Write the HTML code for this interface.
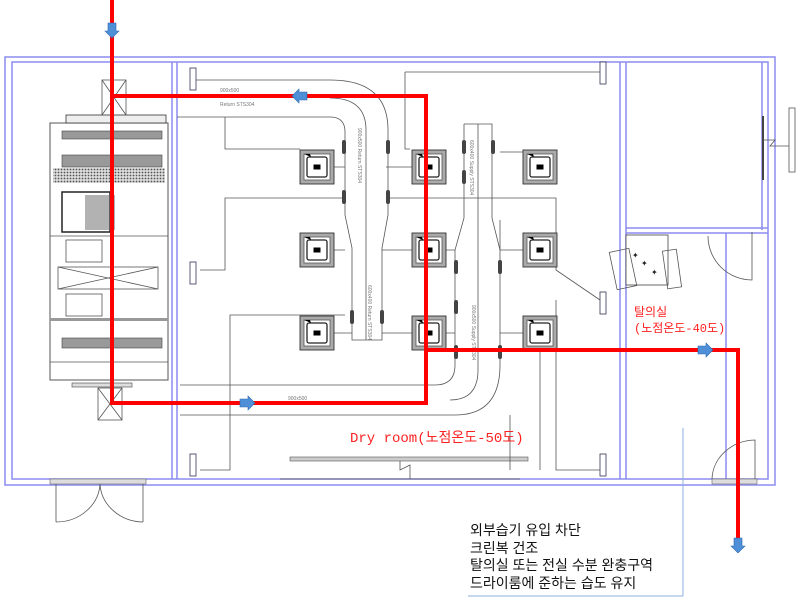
<!DOCTYPE html>
<html><head><meta charset="utf-8"><style>
html,body{margin:0;padding:0;background:#fff;}
svg{display:block;}
.w{stroke:#8c8cf0;stroke-width:1.5;fill:none}
.g{stroke:#555;stroke-width:0.8;fill:none}
.r{stroke:#ff0000;stroke-width:4;fill:none;stroke-linejoin:miter}
.k{font-family:"Liberation Sans","Noto Sans CJK KR",sans-serif;font-size:14px;fill:#111}
.m{font-family:"Liberation Mono","Noto Sans CJK KR",monospace;font-size:14px;fill:#ff2020}
.s{font-family:"Liberation Sans",sans-serif;font-size:5px;fill:#777}
</style></head><body>
<svg width="800" height="603" viewBox="0 0 800 603" xmlns="http://www.w3.org/2000/svg">
<defs>
<pattern id="hat" width="3" height="3" patternUnits="userSpaceOnUse"><rect width="3" height="3" fill="#ddd"/><circle cx="1.5" cy="1.5" r="0.9" fill="#555"/></pattern>
<g id="dif">
<rect x="-17" y="-17" width="34" height="34" fill="#aaa" stroke="#333" stroke-width="0.9"/>
<rect x="-13" y="-13" width="26" height="26" fill="#fff" stroke="#555" stroke-width="0.8"/>
<rect x="-10" y="-10" width="20" height="20" fill="none" stroke="#222" stroke-width="1.3" rx="2"/>
<rect x="-3.5" y="-2.5" width="7" height="5" fill="#000"/>
<path d="M-13,-13 L-6,-10 L-7,-13 Z" fill="#000"/>
</g>
<g id="ar"><path d="M-7,-4 L1,-4 L1,-7 L8,0 L1,7 L1,4 L-7,4 Z" fill="#4f8fd8" stroke="#2d6bb0" stroke-width="0.6"/></g>
</defs>

<rect x="5" y="57" width="770" height="428" class="w"/>
<rect x="12" y="62" width="756" height="417" class="w"/>
<line x1="172" y1="62" x2="172" y2="479" class="w"/>
<line x1="177" y1="62" x2="177" y2="479" class="w"/>
<line x1="620" y1="62" x2="620" y2="479" class="w"/>
<line x1="626" y1="62" x2="626" y2="479" class="w"/>
<line x1="626" y1="228" x2="768" y2="228" class="w"/>
<line x1="626" y1="233" x2="768" y2="233" class="w"/>
<line x1="762" y1="62" x2="762" y2="230" class="w"/>
<line x1="726" y1="233" x2="726" y2="479" class="w"/>
<line x1="683" y1="428" x2="683" y2="596" stroke="#8cb0e0" stroke-width="1"/>
<line x1="468" y1="596" x2="683" y2="596" stroke="#8cb0e0" stroke-width="1"/>

<line x1="763" y1="116" x2="763" y2="180" stroke="#444" stroke-width="2"/>
<rect x="789" y="108" width="6" height="64" class="g"/>
<path d="M763,140 L775,140 L770,146 L789,146" class="g"/>

<rect x="50" y="479" width="96" height="5" fill="#ddd" stroke="#666" stroke-width="0.6"/>
<path d="M56,484 L56,522 M143,484 L143,522 M56,522 A44,40 0 0 0 100,484 M143,522 A44,40 0 0 1 100,484" class="g"/>
<rect x="712" y="479" width="45" height="5" fill="#ddd" stroke="#666" stroke-width="0.6"/>
<path d="M755,479 L755,440 A44,40 0 0 0 712,479" class="g"/>
<path d="M752,232 L752,280 A44,44 0 0 1 708,236" class="g"/>
<rect x="290" y="457" width="238" height="4" fill="#ccc" stroke="#555" stroke-width="0.6"/>
<path d="M400,461 L400,470 L410,465 L410,479 M280,479 L520,479" class="g"/>

<g fill="#fff" stroke="#335" stroke-width="0.8">
<rect x="190" y="68" width="6" height="22"/><rect x="190" y="262" width="6" height="22"/>
<rect x="600" y="62" width="6" height="22"/><rect x="600" y="292" width="6" height="22"/>
<rect x="190" y="454" width="6" height="22"/><rect x="600" y="454" width="6" height="22"/>
</g>

<!-- AHU -->
<rect x="50" y="123" width="118" height="257" fill="#fff" stroke="#555" stroke-width="1"/>
<rect x="66" y="115" width="100" height="8" fill="#eee" stroke="#333" stroke-width="0.8"/>
<rect x="62" y="131" width="100" height="8" fill="#999" stroke="#444" stroke-width="0.6"/>
<rect x="62" y="155" width="100" height="12" fill="#999" stroke="#444" stroke-width="0.6"/>
<rect x="53" y="168" width="112" height="15" fill="url(#hat)"/>
<rect x="62" y="192" width="48" height="40" fill="none" stroke="#222" stroke-width="1.5"/>
<rect x="85" y="195" width="30" height="35" fill="#666" opacity="0.5"/>
<line x1="50" y1="236" x2="168" y2="236" class="g"/>
<rect x="66" y="240" width="36" height="22" class="g"/>
<rect x="58" y="267" width="100" height="22" class="g"/><path d="M58,267 L158,289 M58,289 L158,267" class="g"/>
<rect x="66" y="294" width="36" height="22" class="g"/>
<rect x="50" y="318" width="118" height="3" fill="#999"/>
<rect x="62" y="338" width="100" height="10" fill="#999" stroke="#444" stroke-width="0.6"/>
<line x1="50" y1="362" x2="168" y2="362" class="g"/>
<rect x="72" y="383" width="60" height="4" fill="#ddd" stroke="#444" stroke-width="0.6"/>
<rect x="98" y="388" width="24" height="32" class="g"/><path d="M98,388 L122,420 M122,388 L98,420" class="g"/>
<rect x="102" y="80" width="24" height="35" class="g"/><path d="M102,80 L126,115 M126,80 L102,115" class="g"/>

<g class="g">
<path d="M177,117 L200,117"/>
<path d="M225,117 L225,149 L300,149"/>
<path d="M200,270 L225,270 L225,198 L345,198"/>
<path d="M230,320 L230,315 L345,315 M230,320 L230,470 L200,470"/>
<path d="M405,72 L600,72 M405,72 L405,149 L410,149"/>
<path d="M388,198 L556,198 L556,270 L600,300"/>
<path d="M500,152 L524,152 M500,220 L500,250 M556,300 L556,470 L600,470"/>
<path d="M386,167 L412,167 M334,167 L345,167 M334,250 L345,250 M382,250 L412,250 M334,333 L352,333 M382,333 L412,333 M446,250 L455,250 M500,250 L524,250 M446,333 L455,333 M500,333 L524,333"/>
<path d="M510,415 L510,470 M540,350 L540,470"/>
</g>

<!-- return duct -->
<path d="M196,80 L330,80 Q388,80 388,130 L388,215 L382,248 L382,340 L352,340 L352,248 L345,215 L345,132 Q345,117 330,117 L200,117" class="g"/>
<path d="M330,98 Q366,98 366,130 L366,340" class="g"/>
<text x="358" y="128" class="s" transform="rotate(90 358 128)">900x500  Return STS304</text>
<text x="368" y="285" class="s" transform="rotate(90 368 285)">600x400  Return STS304</text>
<g fill="#444"><rect x="342" y="140" width="4" height="14" rx="2"/><rect x="386" y="140" width="4" height="14" rx="2"/><rect x="342" y="190" width="4" height="14" rx="2"/><rect x="386" y="190" width="4" height="14" rx="2"/><rect x="350" y="310" width="4" height="14" rx="2"/><rect x="380" y="310" width="4" height="14" rx="2"/></g>

<!-- supply duct -->
<path d="M464,124 L492,124 L492,218 L500,250 L500,365 Q500,415 455,415 L180,415 M464,124 L464,218 L455,250 L455,365 Q455,385 435,385 L180,385" class="g"/>
<line x1="478" y1="124" x2="478" y2="370" class="g"/>
<path d="M478,370 Q478,400 450,400" class="g"/>
<text x="470" y="140" class="s" transform="rotate(90 470 140)">600x400 Supply STS304</text>
<text x="472" y="305" class="s" transform="rotate(90 472 305)">900x500 Supply STS304</text>
<text x="288" y="400" class="s">900x500</text>
<g fill="#444"><rect x="462" y="140" width="4" height="14" rx="2"/><rect x="491" y="140" width="4" height="14" rx="2"/><rect x="462" y="170" width="4" height="14" rx="2"/><rect x="454" y="260" width="4" height="14" rx="2"/><rect x="498" y="260" width="4" height="14" rx="2"/><rect x="454" y="300" width="4" height="14" rx="2"/><rect x="454" y="345" width="4" height="14" rx="2"/><rect x="498" y="345" width="4" height="14" rx="2"/></g>

<use href="#dif" x="317" y="167"/><use href="#dif" x="429" y="167"/><use href="#dif" x="540" y="167"/>
<use href="#dif" x="317" y="250"/><use href="#dif" x="429" y="250"/><use href="#dif" x="540" y="250"/>
<use href="#dif" x="317" y="333"/><use href="#dif" x="429" y="333"/><use href="#dif" x="540" y="333"/>

<rect x="626" y="235" width="42" height="50" fill="#fff" stroke="#444" stroke-width="0.8"/>
<rect x="613" y="250" width="20" height="38" transform="rotate(-12 623 269)" class="g"/>
<rect x="665" y="250" width="14" height="38" transform="rotate(-8 672 269)" class="g"/>
<text x="632" y="258" font-size="8" fill="#222">✦</text><text x="641" y="266" font-size="8" fill="#222">✦</text><text x="651" y="275" font-size="8" fill="#222">✦</text>

<path d="M112,0 L112,403 L426,403 L426,96 L112,96" class="r"/>
<path d="M426,350 L738,350 L738,540" class="r"/>
<use href="#ar" transform="translate(112,30) rotate(90)"/>
<use href="#ar" transform="translate(300,96) rotate(180)"/>
<use href="#ar" transform="translate(247,403)"/>
<use href="#ar" transform="translate(705,350)"/>
<use href="#ar" transform="translate(738,545) rotate(90)"/>
<text x="220" y="92" class="s">900x500</text><text x="220" y="106" class="s">Return STS304</text>

<text x="350" y="442" class="m">Dry room(노점온도-50도)</text>
<text x="634" y="316" class="m" style="font-size:12px">탈의실</text>
<text x="634" y="332" class="m" style="font-size:12px">(노점온도-40도)</text>
<text x="470" y="535" class="k">외부습기 유입 차단</text>
<text x="470" y="553" class="k">크린복 건조</text>
<text x="470" y="570" class="k">탈의실 또는 전실 수분 완충구역</text>
<text x="470" y="588" class="k">드라이룸에 준하는 습도 유지</text>
</svg>
</body></html>
